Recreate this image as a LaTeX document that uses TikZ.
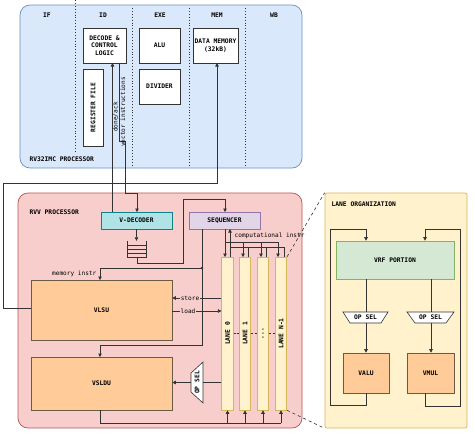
\documentclass[tikz,border=0pt]{standalone}
\usepackage{fontspec}
\setmainfont{DejaVu Sans Mono}
\usetikzlibrary{arrows.meta}
\definecolor{bluefill}{HTML}{DAE8FC}
\definecolor{blueline}{HTML}{6C8EBF}
\definecolor{pinkfill}{HTML}{F8CECC}
\definecolor{pinkline}{HTML}{B85450}
\definecolor{yelfill}{HTML}{FFF2CC}
\definecolor{yelline}{HTML}{D6B656}
\definecolor{tealfill}{HTML}{B0E3E6}
\definecolor{tealline}{HTML}{0E8088}
\definecolor{purfill}{HTML}{E1D5E7}
\definecolor{purline}{HTML}{9673A6}
\definecolor{orafill}{HTML}{FFCC99}
\definecolor{oraline}{HTML}{6B5B45}
\definecolor{grnfill}{HTML}{D5E8D4}
\definecolor{grnline}{HTML}{82B366}
\definecolor{ink}{HTML}{333333}
\begin{document}
\begin{tikzpicture}[x=1pt,y=-1pt,
  font=\fontsize{6.3}{7.3}\selectfont\bfseries,
  box/.style={draw=ink, line width=0.6pt, inner sep=0pt, align=center, fill=white},
  panel/.style={line width=0.7pt, inner sep=0pt},
  conn/.style={draw=ink, line width=0.6pt},
  arr/.style={conn, -{Triangle[length=3.5pt,width=3.5pt]}},
  lbl/.style={inner sep=0.5pt, font=\fontsize{6.1}{7}\selectfont\mdseries},
  lane/.style={draw=yelline, fill=yelfill, line width=0.6pt, minimum width=11.5pt, minimum height=153pt, inner sep=0pt},
  unit/.style={draw=oraline, fill=orafill, line width=0.6pt, inner sep=0pt, align=center}]
\useasboundingbox (0,0) rectangle (474,437);

% ---------------- RV32IMC panel
\node[panel, draw=blueline, fill=bluefill, rounded corners=10pt, minimum width=282pt, minimum height=163pt] (cpu) at (161,86.5) {};
\foreach \xx/\ya/\yb in {75/0/152, 132.5/8/167, 189/8/167, 245.5/8/167}
  \draw[ink, line width=0.9pt, dotted] (\xx,\ya) -- (\xx,\yb);
\node (hif) at (47,15) {IF};
\node (hid) at (103,15) {ID};
\node (hexe) at (160,15) {EXE};
\node (hmem) at (217,15) {MEM};
\node (hwb) at (274,15) {WB};
\node[anchor=west] (cputitle) at (26,159) {RV32IMC PROCESSOR};

\node[box, minimum width=43pt, minimum height=35pt] (dec) at (104.5,45.5) {DECODE \&\\CONTROL\\LOGIC};
\node[box, minimum width=20pt, minimum height=77pt] (rf) at (93,107.5) {\rotatebox{90}{REGISTER FILE}};
\node[box, minimum width=41pt, minimum height=35pt] (alu) at (159.5,45.5) {ALU};
\node[box, minimum width=41pt, minimum height=35pt] (div) at (159.5,86.5) {DIVIDER};
\node[box, minimum width=45pt, minimum height=35pt] (dmem) at (215.5,45.5) {DATA MEMORY\\(32kB)};

% ---------------- RVV panel
\node[panel, draw=pinkline, fill=pinkfill, rounded corners=10pt, minimum width=284pt, minimum height=235pt] (rvv) at (160,310.5) {};
\node[anchor=west] (rvvtitle) at (26,212) {RVV PROCESSOR};

\node[draw=tealline, fill=tealfill, line width=0.6pt, minimum width=71pt, minimum height=17pt, inner sep=0pt] (vdec) at (136.5,220.5) {V-DECODER};
\node[draw=purline, fill=purfill, line width=0.6pt, minimum width=71pt, minimum height=17pt, inner sep=0pt] (seq) at (224.5,220.5) {SEQUENCER};

% queue icon
\node[minimum width=19pt, minimum height=16pt, inner sep=0pt] (fifo) at (136.5,249) {};
\draw[ink, line width=0.6pt] (fifo.north west) -- (fifo.south west) -- (fifo.south east) -- (fifo.north east);
\foreach \yy in {245,249,253} \draw[ink, line width=0.6pt] (127,\yy) -- (146,\yy);

\node[unit, minimum width=141pt, minimum height=60pt] (vlsu) at (101.5,310) {VLSU};
\node[unit, minimum width=141pt, minimum height=53pt] (vsldu) at (101.5,383.5) {VSLDU};

\node[lane] (lane0) at (227.5,333.5) {\rotatebox{90}{LANE 0}};
\node[lane] (lane1) at (245,333.5) {\rotatebox{90}{LANE 1}};
\node[lane] (lane2) at (263,333.5) {\rotatebox{90}{...}};
\node[lane] (lanen) at (281,333.5) {\rotatebox{90}{LANE N-1}};
\draw[ink, line width=0.6pt, dash pattern=on 2pt off 1.5pt] (lane0.east) -- (lane1.west);
\draw[ink, line width=0.6pt, dash pattern=on 2pt off 1.5pt] (lane1.east) -- (lane2.west);
\draw[ink, line width=0.6pt, dash pattern=on 2pt off 1.5pt] (lane2.east) -- (lanen.west);

% OP SEL in RVV
\node[minimum width=12pt, minimum height=41pt, inner sep=0pt] (opsel) at (197,382.5) {};
\draw[ink, fill=white, line width=0.6pt] (203,362) -- (203,403) -- (191,392) -- (191,373) -- cycle;
\node (opseltxt) at (opsel.center) {\rotatebox{90}{OP SEL}};

% ---------------- Lane organization panel
\node[panel, draw=yelline, fill=yelfill, rounded corners=2pt, minimum width=142pt, minimum height=235pt] (lorg) at (396,310.5) {};
\node[anchor=west] (lorgtitle) at (328,204) {LANE ORGANIZATION};
\node[draw=grnline, fill=grnfill, line width=0.6pt, minimum width=118pt, minimum height=38pt, inner sep=0pt] (vrf) at (395,260) {VRF PORTION};
\node[minimum width=45pt, minimum height=11pt, inner sep=0pt] (osl) at (365.5,317.5) {};
\draw[ink, fill=white, line width=0.6pt] (343,312) -- (388,312) -- (381,323) -- (350,323) -- cycle;
\node (osltxt) at (osl.center) {OP SEL};
\node[minimum width=47pt, minimum height=11pt, inner sep=0pt] (osr) at (430.5,317.5) {};
\draw[ink, fill=white, line width=0.6pt] (407,312) -- (454,312) -- (446,323) -- (415,323) -- cycle;
\node (osrtxt) at (osr.center) {OP SEL};
\node[unit, minimum width=46pt, minimum height=40pt] (valu) at (366,373) {VALU};
\node[unit, minimum width=47pt, minimum height=40pt] (vmul) at (430.5,373) {VMUL};

% ---------------- connectors (top)
\draw[arr] (112.5,212) -- (112.5,63);
\node[lbl] (lack) at (115.5,117) {\rotatebox{90}{done/ack}};
\draw[arr] (119.5,63) -- (119.5,141) -- (125,141) -- (125,193) -- (137,193) -- (137,212);
\node[lbl] (lvec) at (122.8,112) {\rotatebox{90}{vector instructions}};
\draw[arr] (vlsu.west |- 0,308) -- (3,308) -- (3,183) -- (217,183) -- (217,63);

% ---------------- connectors (RVV)
\draw[arr] (vdec.south) -- (fifo.north);
\draw[arr] (137,257) -- (137,263) -- (183,263) -- (183,199) -- (225,199) -- (225,212);
\draw[arr] (202,229) -- (202,345) -- (100,345) -- (100,357);
\draw[arr] (202,268) -- (100,268) -- (100,280);
\fill[ink] (202,268) circle (1.3pt);
\node[lbl, anchor=east] (lmem) at (97,274) {memory instr};

% sequencer <-> lanes
\draw[conn] (225,229) -- (225,242) -- (278,242);
\draw[arr] (225,242) -- (225,257);
\draw[arr] (243,242) -- (243,257);
\draw[arr] (261,242) -- (261,257);
\draw[arr] (278,242) -- (278,257);
\draw[arr] (230,257) -- (230,229);
\draw[conn] (230,247) -- (284,247);
\draw[conn] (248,257) -- (248,247);
\draw[conn] (266,257) -- (266,247);
\draw[conn] (284,257) -- (284,247);
\node[lbl, anchor=west] (lcomp) at (234,236) {computational instr};

% store / load
\draw[arr] (lane0.west |- 0,298) -- (vlsu.east |- 0,298);
\node[lbl, fill=pinkfill] (lstore) at (190,298) {store};
\draw[arr] (vlsu.east |- 0,311) -- (lane0.west |- 0,311);
\node[lbl, fill=pinkfill] (lload) at (188,311) {load};

% lanes -> op sel -> vsldu
\draw[conn] (lane0.west |- opsel.east) -- (opsel.east);
\draw[arr] (opsel.west) -- (vsldu.east |- opsel.west);

% vsldu -> lanes
\draw[conn] (vsldu.south -| 100,0) -- (100,423) -- (281,423);
\draw[arr] (lane0.south |- 0,423) -- (lane0.south);
\draw[arr] (lane1.south |- 0,423) -- (lane1.south);
\draw[arr] (lane2.south |- 0,423) -- (lane2.south);
\draw[arr] (lanen.south |- 0,423) -- (lanen.south);

% zoom lines
\draw[ink, line width=0.6pt, dashed] (lanen.north east) -- (lorg.north west);
\draw[ink, line width=0.6pt, dashed] (lanen.south east) -- (lorg.south west);

% ---------------- lane organization connectors
\draw[conn] (vrf.south -| 366,0) -- (366,312);
\draw[arr] (366,323) -- (valu.north -| 366,0);
\draw[conn] (vrf.south -| 431,0) -- (431,312);
\draw[arr] (431,323) -- (vmul.north -| 431,0);
\draw[arr] (valu.south -| 366,0) -- (366,405) -- (330,405) -- (330,229) -- (366,229) -- (vrf.north -| 366,0);
\draw[arr] (vmul.south -| 425,0) -- (425,406) -- (460,406) -- (460,229) -- (425,229) -- (vrf.north -| 425,0);
\end{tikzpicture}
\end{document}
